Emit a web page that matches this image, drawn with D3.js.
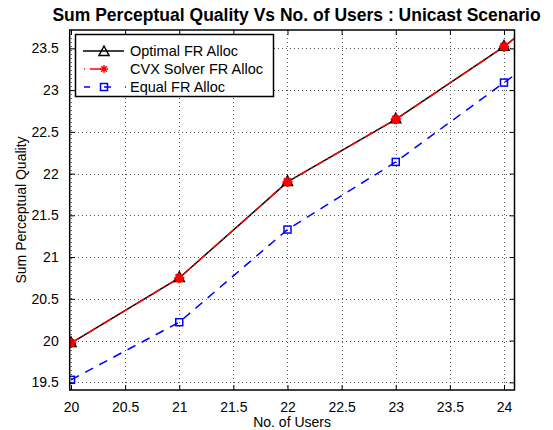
<!DOCTYPE html>
<html><head><meta charset="utf-8">
<script src="https://cdn.jsdelivr.net/npm/d3@7"></script>
<style>
html,body{margin:0;padding:0;background:#fff;}
svg{display:block;font-family:"Liberation Sans",Arial,Helvetica,sans-serif;}
</style></head>
<body>
<svg id="chart" width="553" height="430"></svg>
<script>
// ---- data ----
const users = [20, 21, 22, 23, 24, 25];
const optimalFR = [19.97, 20.75, 21.90, 22.65, 23.52, 24.56];
const cvxFR = [19.97, 20.75, 21.90, 22.65, 23.52, 24.56];
const equalFR = [19.53, 20.22, 21.33, 22.14, 23.09, 24.02];
const xTicks = [20, 20.5, 21, 21.5, 22, 22.5, 23, 23.5, 24];
const yTicks = [19.5, 20, 20.5, 21, 21.5, 22, 22.5, 23, 23.5];
const seriesNames = ["Optimal FR Alloc", "CVX Solver FR Alloc", "Equal FR Alloc"];
const titleText = "Sum Perceptual Quality Vs No. of Users : Unicast Scenario";
const xLabelText = "No. of Users";
const yLabelText = "Sum Perceptual Quality";

const svg = d3.select("#chart");
const L = 69.7, R = 514.5, T = 30, B = 390;
const x = d3.scaleLinear().domain([19.988, 24.097]).range([L, R]);
const y = d3.scaleLinear().domain([19.408, 23.72]).range([B, T]);

svg.append("rect").attr("width", 553).attr("height", 430).attr("fill", "#fff");
svg.append("defs").append("clipPath").attr("id", "clip")
  .append("rect").attr("x", L).attr("y", T).attr("width", R - L).attr("height", B - T);

// grid
const grid = svg.append("g").attr("stroke", "#555").attr("stroke-width", 1)
  .attr("stroke-dasharray", "1,3").attr("shape-rendering", "crispEdges");
xTicks.forEach(t => grid.append("line").attr("x1", Math.round(x(t)) + 0.5).attr("x2", Math.round(x(t)) + 0.5)
  .attr("y1", T).attr("y2", B));
yTicks.forEach(t => grid.append("line").attr("y1", Math.round(y(t)) + 0.5).attr("y2", Math.round(y(t)) + 0.5)
  .attr("x1", L).attr("x2", R));

// axes
const fontSize = 14;
const xAxisB = d3.axisBottom(x).tickValues(xTicks).tickSizeInner(-5).tickSizeOuter(0).tickPadding(12).tickFormat(d3.format("~g"));
const xAxisT = d3.axisTop(x).tickValues(xTicks).tickSizeInner(-5).tickSizeOuter(0).tickFormat("");
const yAxisL = d3.axisLeft(y).tickValues(yTicks).tickSizeInner(-5).tickSizeOuter(0).tickPadding(11).tickFormat(d3.format("~g"));
const yAxisR = d3.axisRight(y).tickValues(yTicks).tickSizeInner(-5).tickSizeOuter(0).tickFormat("");

function styleAxis(g) {
  g.selectAll("path.domain").remove();
  g.selectAll("line").attr("stroke", "#000").attr("stroke-width", 1);
  g.selectAll("text").attr("fill", "#000").attr("font-size", fontSize)
    .attr("font-family", "'Liberation Sans',Arial,sans-serif");
}
svg.append("g").attr("transform", `translate(0,${B})`).call(xAxisB).call(styleAxis);
svg.append("g").attr("transform", `translate(0,${T})`).call(xAxisT).call(styleAxis);
svg.append("g").attr("transform", `translate(${L},0)`).call(yAxisL).call(styleAxis);
svg.append("g").attr("transform", `translate(${R},0)`).call(yAxisR).call(styleAxis);

// lines
const plot = svg.append("g").attr("clip-path", "url(#clip)");
const lineGen = vals => d3.line().x((d, i) => x(users[i])).y(d => y(d))(vals);

plot.append("path").attr("d", lineGen(equalFR)).attr("fill", "none")
  .attr("stroke", "#0000ff").attr("stroke-width", 1.5).attr("stroke-dasharray", "9,7");
plot.append("path").attr("d", lineGen(optimalFR)).attr("fill", "none")
  .attr("stroke", "#000").attr("stroke-width", 1.5);
plot.append("path").attr("d", lineGen(cvxFR)).attr("fill", "none")
  .attr("stroke", "#ff0000").attr("stroke-width", 1.5).attr("stroke-dasharray", "9,4,2,4");

// markers
function triangle(g, cx, cy) {
  g.append("path").attr("d", `M${cx},${cy - 6}L${cx + 5},${cy + 3.5}L${cx - 5},${cy + 3.5}Z`)
    .attr("fill", "none").attr("stroke", "#000").attr("stroke-width", 1.5);
}
function star(g, cx, cy, r, w) {
  const p = [];
  [0, 45, 90, 135].forEach(a => {
    const rad = a * Math.PI / 180;
    p.push(`M${cx - r * Math.cos(rad)},${cy - r * Math.sin(rad)}L${cx + r * Math.cos(rad)},${cy + r * Math.sin(rad)}`);
  });
  g.append("path").attr("d", p.join("")).attr("stroke", "#ff0000").attr("stroke-width", w).attr("fill", "none");
}
function square(g, cx, cy) {
  g.append("rect").attr("x", cx - 3.5).attr("y", cy - 3.5).attr("width", 7).attr("height", 7)
    .attr("fill", "none").attr("stroke", "#0000ff").attr("stroke-width", 1.5);
}
const mk = svg.append("g").attr("clip-path", "url(#clip)");
equalFR.forEach((v, i) => square(mk, x(users[i]), y(v)));
optimalFR.forEach((v, i) => triangle(mk, x(users[i]), y(v)));
cvxFR.forEach((v, i) => star(mk, x(users[i]), y(v), 5, 2.5));

// box
svg.append("rect").attr("x", L).attr("y", T).attr("width", R - L).attr("height", B - T)
  .attr("fill", "none").attr("stroke", "#000").attr("stroke-width", 1.5);

// legend
const lg = svg.append("g");
lg.append("rect").attr("x", 75.5).attr("y", 34.5).attr("width", 198).attr("height", 62)
  .attr("fill", "#fff").attr("stroke", "#000").attr("stroke-width", 1.5);
const rows = [51, 69, 87];
lg.append("line").attr("x1", 83).attr("x2", 124).attr("y1", rows[0]).attr("y2", rows[0])
  .attr("stroke", "#000").attr("stroke-width", 1.5);
triangle(lg, 104, rows[0] + 1);
lg.append("line").attr("x1", 84).attr("x2", 124).attr("y1", rows[1]).attr("y2", rows[1])
  .attr("stroke", "#ff0000").attr("stroke-width", 1.5).attr("stroke-dasharray", "1,5,11,24,11");
star(lg, 104, rows[1], 4, 1.5);
lg.append("line").attr("x1", 84).attr("x2", 126).attr("y1", rows[2]).attr("y2", rows[2])
  .attr("stroke", "#0000ff").attr("stroke-width", 1.5).attr("stroke-dasharray", "6,14,7,14");
square(lg, 104, rows[2]);
seriesNames.forEach((n, i) => lg.append("text").attr("x", 130).attr("y", rows[i] + 5)
  .attr("font-size", 14.5).attr("fill", "#000").text(n));

// labels
svg.append("text").attr("x", 296.5).attr("y", 21).attr("text-anchor", "middle")
  .attr("font-size", 17.5).attr("font-weight", "bold").attr("fill", "#000").text(titleText);
svg.append("text").attr("x", (L + R) / 2).attr("y", 426.5).attr("text-anchor", "middle")
  .attr("font-size", fontSize).attr("fill", "#000").text(xLabelText);
svg.append("text").attr("transform", `translate(25.5,${(T + B) / 2}) rotate(-90)`)
  .attr("text-anchor", "middle").attr("font-size", fontSize).attr("fill", "#000").text(yLabelText);
</script>
</body></html>
